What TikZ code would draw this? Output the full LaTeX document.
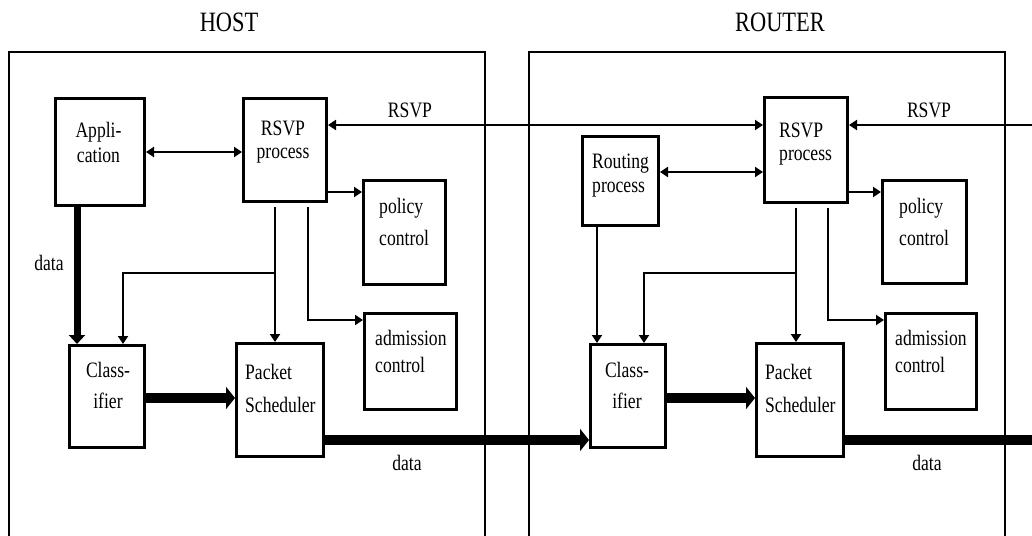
\documentclass[tikz,border=0pt]{standalone}
\usepackage{fontspec}
\setmainfont{Liberation Serif}[FakeStretch=0.8]
\usetikzlibrary{arrows.meta}
\begin{document}
\begin{tikzpicture}[x=1pt,y=-1pt,
  box/.style={draw, line width=3pt, inner sep=0pt, anchor=north west},
  txt/.style={inner sep=0pt},
  title/.style={inner sep=0pt, font=\fontsize{28}{32}\selectfont},
  thinarrow/.style={line width=2pt, -{Triangle[length=8pt,width=10pt]}},
  botharrow/.style={line width=2pt, {Triangle[length=8pt,width=10pt]}-{Triangle[length=8pt,width=10pt]}},
  thickv/.style={line width=7pt, -{Triangle[length=9pt,width=16pt]}},
  thickh/.style={line width=10pt, -{Triangle[length=9pt,width=22pt]}},
  thickline/.style={line width=10pt},
  frameline/.style={line width=2.2pt}]
\useasboundingbox (0,0) rectangle (1032,535);
\clip (0,0) rectangle (1032,535);
% frames
\draw[frameline] (9,545) -- (9,52) -- (485,52) -- (485,545);
\draw[frameline] (529,545) -- (529,52) -- (1005,52) -- (1005,545);
\node[title, anchor=base] (thost) at (229,32) {HOST};
\node[title, anchor=base] (trouter) at (780,32) {ROUTER};
% host boxes
\node[box, minimum width=89pt, minimum height=107pt] (app) at (54,97) {};
\node[box, minimum width=83pt, minimum height=103pt] (rsvpH) at (242,97) {};
\node[box, minimum width=82pt, minimum height=104pt] (polH) at (362,179) {};
\node[box, minimum width=92pt, minimum height=96pt] (admH) at (363,312) {};
\node[box, minimum width=75pt, minimum height=102pt] (clsH) at (68,344) {};
\node[box, minimum width=87pt, minimum height=113pt] (schH) at (235,342) {};
% router boxes
\node[box, minimum width=76pt, minimum height=89pt] (route) at (581,135) {};
\node[box, minimum width=83pt, minimum height=105pt] (rsvpR) at (763,96) {};
\node[box, minimum width=84pt, minimum height=103pt] (polR) at (881,179) {};
\node[box, minimum width=91pt, minimum height=96pt] (admR) at (884,312) {};
\node[box, minimum width=75pt, minimum height=103pt] (clsR) at (589,343) {};
\node[box, minimum width=87pt, minimum height=113pt] (schR) at (755,342) {};
% texts host (anchor = baseline of last line)
\node[txt, align=center, anchor=base, font=\fontsize{22}{25}\selectfont] (tapp) at (98.5,162) {Appli-\\cation};
\node[txt, align=center, anchor=base, font=\fontsize{22}{23}\selectfont] (trsvpH) at (283,158) {RSVP\\process};
\node[txt, align=left, anchor=base west, font=\fontsize{22}{32}\selectfont] (tpolH) at (379,245) {policy\\control};
\node[txt, align=left, anchor=base west, font=\fontsize{22}{27}\selectfont] (tadmH) at (375,372) {admission\\control};
\node[txt, align=center, anchor=base, font=\fontsize{22}{31}\selectfont] (tclsH) at (108,408) {Class-\\ifier};
\node[txt, align=left, anchor=base west, font=\fontsize{22}{33}\selectfont] (tschH) at (245,412) {Packet\\Scheduler};
% texts router
\node[txt, align=left, anchor=base west, font=\fontsize{22}{24}\selectfont] (troute) at (592,192) {Routing\\process};
\node[txt, align=left, anchor=base west, font=\fontsize{22}{23}\selectfont] (trsvpR) at (779,160) {RSVP\\process};
\node[txt, align=left, anchor=base west, font=\fontsize{22}{32}\selectfont] (tpolR) at (899,245) {policy\\control};
\node[txt, align=left, anchor=base west, font=\fontsize{22}{27}\selectfont] (tadmR) at (895,372) {admission\\control};
\node[txt, align=center, anchor=base, font=\fontsize{22}{31}\selectfont] (tclsR) at (627,408) {Class-\\ifier};
\node[txt, align=left, anchor=base west, font=\fontsize{22}{33}\selectfont] (tschR) at (765,412) {Packet\\Scheduler};
% labels
\node[txt, anchor=base, font=\fontsize{22}{25}\selectfont] (ldata1) at (49,270) {data};
\node[txt, anchor=base, font=\fontsize{22}{25}\selectfont] (ldata2) at (407,470) {data};
\node[txt, anchor=base, font=\fontsize{22}{25}\selectfont] (ldata3) at (927,470) {data};
\node[txt, anchor=base, font=\fontsize{22}{25}\selectfont] (lrsvp1) at (410,117) {RSVP};
\node[txt, anchor=base, font=\fontsize{22}{25}\selectfont] (lrsvp2) at (929,117) {RSVP};
% free ends
\coordinate (rsvpin) at (1040,125);
\coordinate (dataout) at (1040,440);
\coordinate (bH) at (275,273);
\coordinate (bR) at (796,273);
% host connectors
\draw[botharrow] (app.east |- 0,152) -- (rsvpH.west |- 0,152);
\draw[botharrow] (rsvpH.east |- 0,125) -- (rsvpR.west |- 0,125);
\draw[thinarrow] (rsvpH.east |- 0,192) -- (polH.west |- 0,192);
\draw[thinarrow] ([yshift=-4pt]rsvpH.south -| 275,0) -- (schH.north -| 275,0);
\draw[thinarrow] (bH) -| (clsH.north -| 123,0);
\draw[thinarrow] ([yshift=-4pt]rsvpH.south -| 308,0) |- (admH.west |- 0,320);
\draw[thickv] (app.south -| 77,0) -- (clsH.north -| 77,0);
\draw[thickh] (clsH.east |- 0,398) -- (schH.west |- 0,398);
\draw[thickh] (schH.east |- 0,440) -- (clsR.west |- 0,440);
% router connectors
\draw[thinarrow] (rsvpin) -- (rsvpR.east |- 0,125);
\draw[botharrow] (route.east |- 0,172) -- (rsvpR.west |- 0,172);
\draw[thinarrow] (rsvpR.east |- 0,192) -- (polR.west |- 0,192);
\draw[thinarrow] ([yshift=-4pt]rsvpR.south -| 796,0) -- (schR.north -| 796,0);
\draw[thinarrow] (bR) -| (clsR.north -| 644,0);
\draw[thinarrow] (route.south -| 597,0) -- (clsR.north -| 597,0);
\draw[thinarrow] ([yshift=-4pt]rsvpR.south -| 828,0) |- (admR.west |- 0,320);
\draw[thickh] (clsR.east |- 0,398) -- (schR.west |- 0,398);
\draw[thickline] (schR.east |- 0,440) -- (dataout);
\end{tikzpicture}
\end{document}
